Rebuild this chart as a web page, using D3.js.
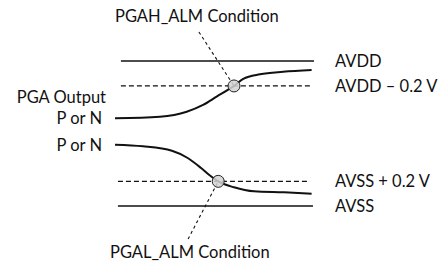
<!DOCTYPE html>
<html lang="en">
<head>
  <meta charset="UTF-8">
  <title>PGA Alarm Conditions</title>
  <style>
    html, body {
      margin: 0;
      background: #ffffff;
    }
    svg text {
      font-family: Lato, "Open Sans", sans-serif;
      font-size: 16.5px;
      fill: #111;
    }
  </style>
</head>
<body>
  <svg id="chart" width="438" height="264"></svg>

  <script src="https://cdn.jsdelivr.net/npm/d3@7/dist/d3.min.js"></script>
  <script>
    // reference levels (unitless: AVSS = 0, AVDD = 100)
    const levelNames = ['AVDD', 'AVDD \u2013 0.2 V', 'AVSS + 0.2 V', 'AVSS'];
    const levelValues = [100, 82.8, 17, 0];
    const levelDashed = [false, true, true, false];
    const levelSpans = [[3, 101], [3, 99], [1.5, 99], [1.5, 100.5]];

    // PGA output traces
    const highX = [0, 22.8, 36.4, 44.7, 51.6, 60.4, 65.1, 73.6, 85.3, 99.8];
    const highY = [60.5, 61.6, 65.0, 69.7, 75.4, 82.8, 87.6, 90.8, 92.6, 93.8];
    const lowX = [0, 14.2, 28.9, 36.9, 43.7, 48.7, 52.4, 60.4, 70.6, 85.8, 99.8];
    const lowY = [42.3, 41.2, 38.1, 33.1, 26.2, 20.5, 17.0, 12.9, 10.1, 9.4, 8.5];

    // alarm crossing points and where their callouts point to
    const alarmNames = ['PGAH_ALM Condition', 'PGAL_ALM Condition'];
    const alarmAt = [[60.4, 82.8], [52.4, 17.0]];
    const alarmLeader = [[42.6, 120], [37.1, -22.8]];

    const inputNames = ['PGA Output', 'P or N', 'P or N'];

    const svg = d3.select('#chart');
    const x = d3.scaleLinear().domain([0, 100]).range([115, 312]);
    const y = d3.scaleLinear().domain([0, 100]).range([206, 61]);

    const line = d3.line()
      .x(d => x(d[0]))
      .y(d => y(d[1]))
      .curve(d3.curveMonotoneX);

    // horizontal reference levels
    levelValues.forEach((v, i) => {
      svg.append('line')
        .attr('x1', x(levelSpans[i][0]))
        .attr('x2', x(levelSpans[i][1]))
        .attr('y1', y(v))
        .attr('y2', y(v))
        .attr('stroke', '#111')
        .attr('stroke-width', levelDashed[i] ? 1.2 : 1.4)
        .attr('stroke-dasharray', levelDashed[i] ? '5,3' : null);

      svg.append('text')
        .attr('x', x.range()[1] + 23)
        .attr('y', y(v))
        .attr('dy', '0.36em')
        .text(levelNames[i]);
    });

    // traces
    [d3.zip(highX, highY), d3.zip(lowX, lowY)].forEach(pts => {
      svg.append('path')
        .attr('d', line(pts))
        .attr('fill', 'none')
        .attr('stroke', '#111')
        .attr('stroke-width', 2);
    });

    // callouts
    alarmAt.forEach((p, i) => {
      svg.append('line')
        .attr('x1', x(alarmLeader[i][0]))
        .attr('y1', y(alarmLeader[i][1]))
        .attr('x2', x(p[0]))
        .attr('y2', y(p[1]))
        .attr('stroke', '#111')
        .attr('stroke-width', 1.1)
        .attr('stroke-dasharray', '3,3');

      svg.append('circle')
        .attr('cx', x(p[0]))
        .attr('cy', y(p[1]))
        .attr('r', 6)
        .attr('fill', '#d4d4d4')
        .attr('fill-opacity', 0.85)
        .attr('stroke', '#222')
        .attr('stroke-width', 1);
    });

    svg.append('text')
      .attr('x', 115)
      .attr('y', 16)
      .attr('dy', '0.36em')
      .text(alarmNames[0]);

    svg.append('text')
      .attr('x', 110)
      .attr('y', 252)
      .attr('dy', '0.36em')
      .text(alarmNames[1]);

    // left labels
    const leftY = [97, y(highY[0]), y(lowY[0])];
    const leftX = [106, 102, 102];
    inputNames.forEach((t, i) => {
      svg.append('text')
        .attr('x', leftX[i])
        .attr('y', leftY[i])
        .attr('dy', '0.36em')
        .attr('text-anchor', 'end')
        .text(t);
    });
  </script>
</body>
</html>
